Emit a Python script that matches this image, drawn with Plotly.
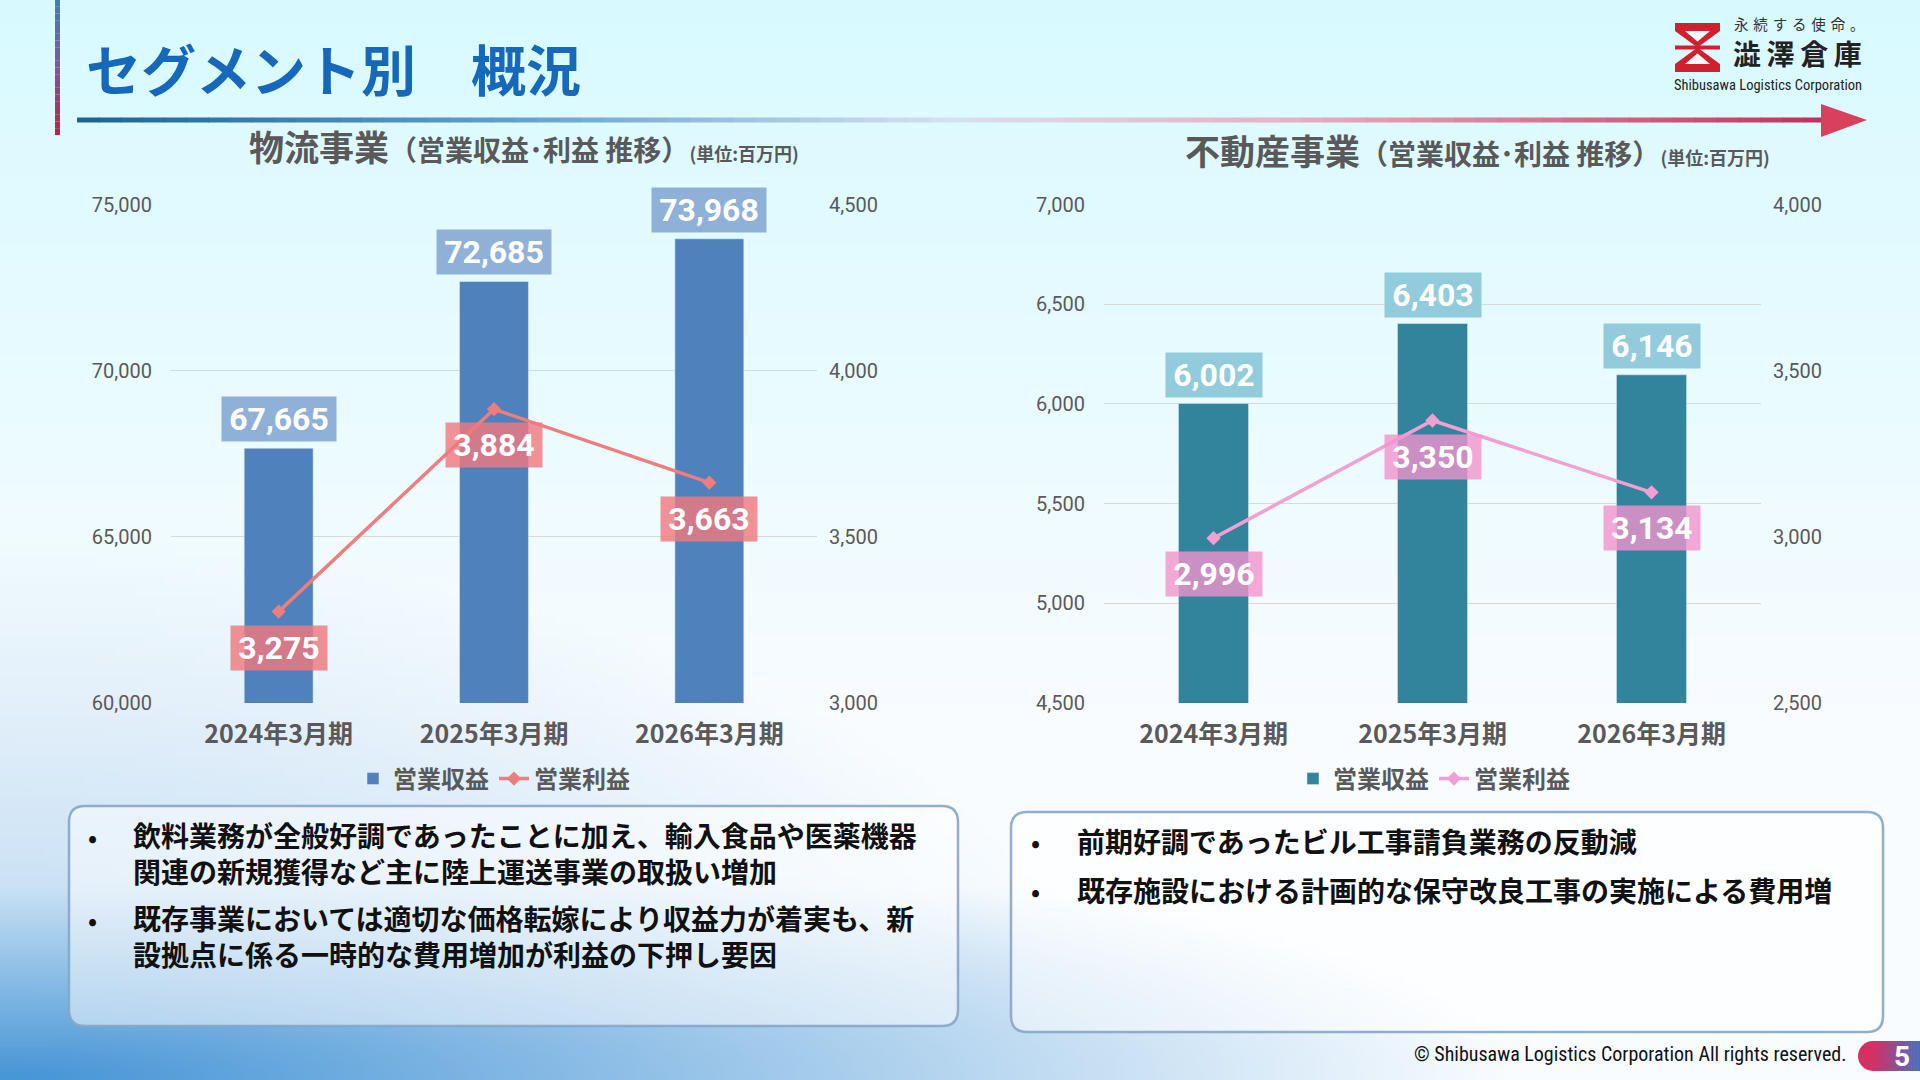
import base64, struct, zlib
import numpy as np
import plotly.graph_objects as go

# ---------------- data ----------------
categories = ["2024年3月期", "2025年3月期", "2026年3月期"]
logi_revenue = [67665, 72685, 73968]
logi_profit = [3275, 3884, 3663]
re_revenue = [6002, 6403, 6146]
re_profit = [2996, 3350, 3134]
series_names = ["営業収益", "営業利益"]

left_bullets = [
    ["飲料業務が全般好調であったことに加え、輸入食品や医薬機器", "関連の新規獲得など主に陸上運送事業の取扱い増加"],
    ["既存事業においては適切な価格転嫁により収益力が着実も、新", "設拠点に係る一時的な費用増加が利益の下押し要因"],
]
right_bullets = [
    ["前期好調であったビル工事請負業務の反動減"],
    ["既存施設における計画的な保守改良工事の実施による費用増"],
]

W, H = 1920, 1080
JP = "Noto Sans CJK JP"
NUM = "Roboto"
NARROW = "Liberation Sans Narrow, Roboto Condensed, Roboto"
GRAY = "#595959"


def px(x):
    return x / W


def py(y):
    return 1 - y / H


# ---------------- background gradient image ----------------
def make_bg(w=192, h=108):
    xs = (np.arange(w) + 0.5) * (W / w)
    ys = (np.arange(h) + 0.5) * (H / h)
    X, Y = np.meshgrid(xs, ys)
    white = np.array([248, 252, 255], float)
    cyan = np.array([216, 250, 255], float)
    blue = np.array([68, 148, 214], float)
    t = np.clip(1 - Y / 700.0, 0, 1)[..., None]
    base = white * (1 - t) + cyan * t
    b1 = np.clip(1 - np.sqrt((X / 1500.0) ** 2 + ((H - Y) / 260.0) ** 2), 0, 1)
    b2 = 0.38 * np.clip(1 - np.sqrt((X / 1100.0) ** 2 + ((H - Y) / 540.0) ** 2), 0, 1)
    b = np.maximum(b1, b2)[..., None]
    img = base * (1 - b) + blue * b
    img = np.clip(img, 0, 255).astype(np.uint8)
    raw = b"".join(b"\x00" + img[r].tobytes() for r in range(h))

    def chunk(tag, data):
        c = struct.pack(">I", len(data)) + tag + data
        return c + struct.pack(">I", zlib.crc32(tag + data) & 0xFFFFFFFF)

    png = b"\x89PNG\r\n\x1a\n" + chunk(b"IHDR", struct.pack(">IIBBBBB", w, h, 8, 2, 0, 0, 0))
    png += chunk(b"IDAT", zlib.compress(raw, 9)) + chunk(b"IEND", b"")
    return "data:image/png;base64," + base64.b64encode(png).decode()


def lerp_color(stops, f):
    for i in range(len(stops) - 1):
        f0, c0 = stops[i]
        f1, c1 = stops[i + 1]
        if f0 <= f <= f1:
            k = (f - f0) / (f1 - f0) if f1 > f0 else 0
            c = [round(c0[j] + (c1[j] - c0[j]) * k) for j in range(3)]
            return f"rgb({c[0]},{c[1]},{c[2]})"
    c = stops[-1][1]
    return f"rgb({c[0]},{c[1]},{c[2]})"


fig = go.Figure()

# ---------------- left chart ----------------
fig.add_trace(go.Bar(
    x=categories, y=logi_revenue, name=series_names[0], marker_color="#4f81bd",
    xaxis="x", yaxis="y", legend="legend", hoverinfo="skip"))
fig.add_trace(go.Scatter(
    x=categories, y=logi_profit, name=series_names[1], mode="lines+markers",
    line=dict(color="#ee7d7d", width=3.5), marker=dict(symbol="diamond", size=11, color="#ee7d7d"),
    xaxis="x", yaxis="y2", legend="legend", hoverinfo="skip"))

# ---------------- right chart ----------------
fig.add_trace(go.Bar(
    x=categories, y=re_revenue, name=series_names[0], marker_color="#31849b",
    xaxis="x2", yaxis="y3", legend="legend2", hoverinfo="skip"))
fig.add_trace(go.Scatter(
    x=categories, y=re_profit, name=series_names[1], mode="lines+markers",
    line=dict(color="#f0a0d2", width=3.5), marker=dict(symbol="diamond", size=11, color="#f0a0d2"),
    xaxis="x2", yaxis="y4", legend="legend2", hoverinfo="skip"))

annotations = []


def value_label(xref, yref, xv, yv, bg, above):
    s = f"{yv:,}"
    nd = len(str(yv))
    annotations.append(dict(
        xref=xref, yref=yref, x=xv, y=yv, text=s, showarrow=False,
        xanchor="center", yanchor="bottom" if above else "top",
        yshift=6 if above else -13,
        width=18 * nd + 16, height=36, borderpad=4, bgcolor=bg,
        font=dict(family=NUM, size=32, color="white", weight="bold")))


for c, v in zip(categories, logi_revenue):
    value_label("x", "y", c, v, "rgb(143,177,215)", True)
for c, v in zip(categories, logi_profit):
    value_label("x", "y2", c, v, "rgba(239,121,127,0.82)", False)
for c, v in zip(categories, re_revenue):
    value_label("x2", "y3", c, v, "rgb(146,203,220)", True)
for c, v in zip(categories, re_profit):
    value_label("x2", "y4", c, v, "rgba(243,148,205,0.8)", False)


def txt(x, y, s, size, color, xanchor="left", weight="normal", family=JP, cjk=True):
    # CJK fonts sit a little low in their line box; nudge up so glyph centres land on y
    yy = y - (0.1 * size if cjk else 0)
    annotations.append(dict(
        xref="paper", yref="paper", x=px(x), y=py(yy), text=s, showarrow=False,
        xanchor=xanchor, yanchor="middle", align="left",
        font=dict(family=family, size=size, color=color, weight=weight)))


# titles
txt(84, 72, "セグメント別　概況", 55, "#1668bb", weight="bold")
txt(247, 149, "物流事業<span style='font-size:28px'>（営業収益･利益 推移）</span>"
    "<span style='font-size:18px'>(単位:百万円)</span>", 35, GRAY, weight="bold")
txt(1183, 153, "不動産事業<span style='font-size:28px'>（営業収益･利益 推移）</span>"
    "<span style='font-size:18px'>(単位:百万円)</span>", 35, GRAY, weight="bold")

# bullet texts
left_centres = [(839, 856), (922, 939)]
for lines, (y_first, yc) in zip(left_bullets, left_centres):
    txt(92, y_first, "•", 24, "#111", xanchor="center", weight="bold")
    txt(131, yc, "<br>".join(lines), 28, "#111", weight="bold")
right_centres = [844, 893]
for lines, yc in zip(right_bullets, right_centres):
    txt(1035, yc, "•", 24, "#111", xanchor="center", weight="bold")
    txt(1075, yc, "<br>".join(lines), 28, "#111", weight="bold")

# logo texts
txt(1732, 25, "\u2004".join("永続する使命。"), 14.5, "#333")
txt(1731, 56, "澁\u2009澤\u2009倉\u2009庫", 28, "#222", weight="bold")
txt(1768, 86, "Shibusawa Logistics Corporation", 14.5, "#222", xanchor="center",
    family=NARROW, cjk=False)

# footer
txt(1849, 1054, "© Shibusawa Logistics Corporation All rights reserved.", 20, "#111",
    xanchor="right", family=NARROW, cjk=False)
txt(1902, 1056, "5", 28, "white", xanchor="center", weight="bold", family=NUM, cjk=False)

# ---------------- decorative shapes ----------------
shapes = []

# vertical accent bar
vstops = [(0, (70, 125, 180)), (0.5, (120, 90, 150)), (1, (195, 30, 75))]
n = 20
for i in range(n):
    y0 = 135 * i / n
    y1 = 135 * (i + 1) / n
    shapes.append(dict(type="rect", xref="paper", yref="paper", x0=px(55), x1=px(60),
                       y0=py(y1), y1=py(y0), line_width=0,
                       fillcolor=lerp_color(vstops, (i + 0.5) / n), layer="above"))

# horizontal gradient arrow line
hstops = [(0, (28, 98, 150)), (0.25, (100, 160, 205)), (0.5, (215, 226, 240)),
          (0.7, (232, 175, 190)), (0.85, (218, 110, 140)), (1, (195, 45, 90))]
x_start, x_end = 77, 1826
n = 80
for i in range(n):
    xa = x_start + (x_end - x_start) * i / n
    xb = x_start + (x_end - x_start) * (i + 1) / n + 0.8
    shapes.append(dict(type="rect", xref="paper", yref="paper", x0=px(xa), x1=px(xb),
                       y0=py(122.5), y1=py(117.5), line_width=0,
                       fillcolor=lerp_color(hstops, (i + 0.5) / n), layer="above"))
shapes.append(dict(type="path", xref="paper", yref="paper",
                   path=f"M{px(1821)},{py(104)} L{px(1867)},{py(120)} L{px(1821)},{py(137)} Z",
                   fillcolor="#d8405c", line_width=0, layer="above"))


def rounded_rect(x0, y0, x1, y1, r):
    X0, X1 = px(x0), px(x1)
    Y0, Y1 = py(y0), py(y1)
    rx, ry = r / W, r / H
    return (f"M{X0 + rx},{Y0} L{X1 - rx},{Y0} Q{X1},{Y0} {X1},{Y0 - ry} "
            f"L{X1},{Y1 + ry} Q{X1},{Y1} {X1 - rx},{Y1} L{X0 + rx},{Y1} "
            f"Q{X0},{Y1} {X0},{Y1 + ry} L{X0},{Y0 - ry} Q{X0},{Y0} {X0 + rx},{Y0} Z")


for (bx0, by0, bx1, by1) in [(69, 806, 958, 1026), (1011, 812, 1883, 1032)]:
    shapes.append(dict(type="path", xref="paper", yref="paper",
                       path=rounded_rect(bx0, by0, bx1, by1, 16),
                       fillcolor="rgba(255,255,255,0.5)",
                       line=dict(color="rgba(135,165,198,0.9)", width=2.5), layer="below"))

# logo symbol
red = "#d0202e"
shapes.append(dict(type="path", xref="paper", yref="paper",
                   path=f"M{px(1675)},{py(23)} L{px(1720)},{py(23)} L{px(1720)},{py(31)} "
                        f"L{px(1697.5)},{py(47.5)} L{px(1720)},{py(64)} L{px(1720)},{py(72)} "
                        f"L{px(1675)},{py(72)} L{px(1675)},{py(64)} L{px(1697.5)},{py(47.5)} "
                        f"L{px(1675)},{py(31)} Z",
                   fillcolor=red, line_width=0, layer="above"))
for tri in [((1685, 31), (1710, 31), (1697.5, 41.5)), ((1685, 64), (1710, 64), (1697.5, 53.5))]:
    p = "M" + " L".join(f"{px(a)},{py(b)}" for a, b in tri) + " Z"
    shapes.append(dict(type="path", xref="paper", yref="paper", path=p,
                       fillcolor="white", line_width=0, layer="above"))
shapes.append(dict(type="rect", xref="paper", yref="paper", x0=px(1675), x1=px(1720),
                   y0=py(49.5), y1=py(45.5), fillcolor=red, line_width=0, layer="above"))

# page-number pill
pstops = [(0, (212, 48, 100)), (1, (72, 112, 188))]
shapes.append(dict(type="circle", xref="paper", yref="paper", x0=px(1858), x1=px(1888),
                   y0=py(1071), y1=py(1041), fillcolor="rgb(212,48,100)", line_width=0, layer="above"))
n = 16
for i in range(n):
    xa = 1873 + (1920 - 1873) * i / n
    xb = 1873 + (1920 - 1873) * (i + 1) / n + 0.6
    shapes.append(dict(type="rect", xref="paper", yref="paper", x0=px(xa), x1=px(xb),
                       y0=py(1071), y1=py(1041), line_width=0,
                       fillcolor=lerp_color(pstops, (i + 0.5) / n), layer="above"))

# ---------------- layout ----------------
tick_font = dict(family=NUM, size=20, color=GRAY)
xtick_font = dict(family=JP, size=25, color=GRAY, weight="bold")
legend_font = dict(family=JP, size=24, color=GRAY, weight="bold")
grid = "#d9d9d9"
ydom = [py(703), py(204.5)]

fig.update_layout(
    width=W, height=H, margin=dict(l=0, r=0, t=0, b=0, pad=0, autoexpand=False),
    paper_bgcolor="rgba(0,0,0,0)", plot_bgcolor="rgba(0,0,0,0)",
    bargap=0.68, showlegend=True,
    images=[dict(source=make_bg(), xref="paper", yref="paper", x=0, y=1, sizex=1, sizey=1,
                 sizing="stretch", layer="below", xanchor="left", yanchor="top")],
    xaxis=dict(domain=[px(171), px(817)], type="category", categoryorder="array",
               categoryarray=categories, showgrid=False, showline=False, zeroline=False,
               tickfont=xtick_font, ticks="", ticklabelstandoff=14, fixedrange=True,
               automargin=False),
    yaxis=dict(domain=ydom, range=[60000, 75000], dtick=5000, tickformat=",", showgrid=True,
               gridcolor=grid, gridwidth=1, zeroline=False, showline=False, tickfont=tick_font,
               ticks="", ticklabelstandoff=18, fixedrange=True, automargin=False),
    yaxis2=dict(overlaying="y", side="right", anchor="x", range=[3000, 4500], dtick=500,
                tickformat=",", showgrid=False, zeroline=False, showline=False, tickfont=tick_font,
                ticks="", ticklabelstandoff=11, fixedrange=True, automargin=False),
    xaxis2=dict(domain=[px(1104), px(1761)], anchor="y3", type="category", categoryorder="array",
                categoryarray=categories, showgrid=False, showline=False, zeroline=False,
                tickfont=xtick_font, ticks="", ticklabelstandoff=14, fixedrange=True,
                automargin=False),
    yaxis3=dict(domain=ydom, anchor="x2", range=[4500, 7000], dtick=500, tickformat=",",
                showgrid=True, gridcolor=grid, gridwidth=1, zeroline=False, showline=False,
                tickfont=tick_font, ticks="", ticklabelstandoff=18, fixedrange=True,
                automargin=False),
    yaxis4=dict(overlaying="y3", side="right", anchor="x2", range=[2500, 4000], dtick=500,
                tickformat=",", showgrid=False, zeroline=False, showline=False, tickfont=tick_font,
                ticks="", ticklabelstandoff=11, fixedrange=True, automargin=False),
    legend=dict(orientation="h", x=px(494), xanchor="center", y=py(779), yanchor="middle",
                font=legend_font, bgcolor="rgba(0,0,0,0)", itemclick=False, itemdoubleclick=False),
    legend2=dict(orientation="h", x=px(1434), xanchor="center", y=py(779), yanchor="middle",
                 font=legend_font, bgcolor="rgba(0,0,0,0)", itemclick=False, itemdoubleclick=False),
    annotations=annotations,
    shapes=shapes,
)

fig.write_html("out.html", config={"displayModeBar": False, "staticPlot": True})
